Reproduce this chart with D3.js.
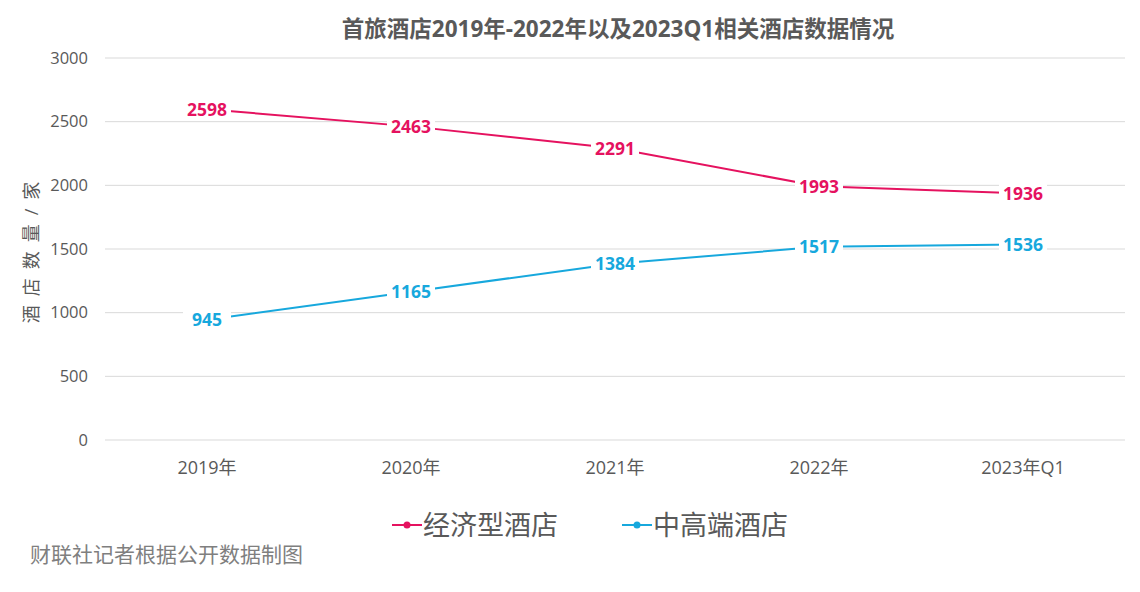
<!DOCTYPE html>
<html><head><meta charset="utf-8">
<script src="https://cdn.jsdelivr.net/npm/d3@7"></script>
<style>
body{margin:0;background:#fff;}
text{font-family:"Open Sans","Noto Sans CJK SC",sans-serif;}
</style></head>
<body>
<svg id="c" width="1140" height="592"></svg>
<script>
const categories = ["2019年","2020年","2021年","2022年","2023年Q1"];
const economy = [2598, 2463, 2291, 1993, 1936];
const midHigh = [945, 1165, 1384, 1517, 1536];
const yTicks = [0, 500, 1000, 1500, 2000, 2500, 3000];
const seriesNames = ["经济型酒店", "中高端酒店"];
const colors = ["#E5125F", "#17A8DD"];

(function () {
const svg = d3.select("#c");
svg.append("rect").attr("width",1140).attr("height",592).attr("fill","#fff");

const pl = 105, pr = 1125, pt = 58, pb = 440;
const x = d3.scaleBand().domain(categories).range([pl, pr]);
const y = d3.scaleLinear().domain([0, 3000]).range([pb, pt]);

svg.append("g").selectAll("line").data(yTicks).join("line")
  .attr("x1", pl).attr("x2", pr)
  .attr("y1", d => y(d)).attr("y2", d => y(d))
  .attr("stroke", "#d9d9d9").attr("stroke-width", 1);

const yAxis = d3.axisLeft(y).tickValues(yTicks).tickFormat(d3.format("d")).tickSize(0).tickPadding(17);
const gy = svg.append("g").attr("transform", `translate(${pl},0)`).call(yAxis);
gy.select(".domain").remove();
gy.selectAll("text").attr("font-size", 16.5).attr("fill", "#595959");

const xAxis = d3.axisBottom(x).tickSize(0).tickPadding(21);
const gx = svg.append("g").attr("transform", `translate(0,${pb})`).call(xAxis);
gx.select(".domain").remove();
gx.selectAll("text").attr("font-size", 18).attr("fill", "#595959");

svg.append("text").attr("x", 618).attr("y", 37).attr("text-anchor", "middle")
  .attr("font-size", 22.5).attr("font-weight", "bold").attr("fill", "#595959")
  .text("首旅酒店2019年-2022年以及2023Q1相关酒店数据情况");

svg.append("text").attr("transform", "translate(38,248) rotate(-90)")
  .attr("text-anchor", "middle").attr("font-size", 18).attr("fill", "#595959")
  .attr("letter-spacing", 9)
  .text("酒店数量/家");

const line = d3.line().x((d, i) => x(categories[i]) + x.bandwidth() / 2).y(d => y(d));
[economy, midHigh].forEach((s, k) => {
  svg.append("path").datum(s).attr("d", line).attr("fill", "none")
    .attr("stroke", colors[k]).attr("stroke-width", 2);
  const g = svg.append("g").selectAll("g").data(s).join("g")
    .attr("transform", (d, i) => `translate(${x(categories[i]) + x.bandwidth() / 2},${y(d)})`);
  g.append("rect").attr("x", -24).attr("y", -11).attr("width", 48).attr("height", 22).attr("fill", "#fff");
  g.append("text").attr("text-anchor", "middle").attr("dy", "0.36em")
    .attr("font-size", 17.5).attr("font-weight", "bold").attr("fill", colors[k])
    .text(d => d);
});

const legX = [392, 622];
seriesNames.forEach((n, k) => {
  const g = svg.append("g").attr("transform", `translate(${legX[k]},525)`);
  g.append("line").attr("x1", 0).attr("x2", 30).attr("stroke", colors[k]).attr("stroke-width", 2);
  g.append("circle").attr("cx", 15).attr("r", 3.5).attr("fill", colors[k]);
  g.append("text").attr("x", 31).attr("dy", "0.36em").attr("font-size", 27)
    .attr("fill", "#595959").text(n);
});

svg.append("text").attr("x", 30).attr("y", 562).attr("font-size", 21)
  .attr("fill", "#7f7f7f").text("财联社记者根据公开数据制图");
})();
</script>
</body></html>
